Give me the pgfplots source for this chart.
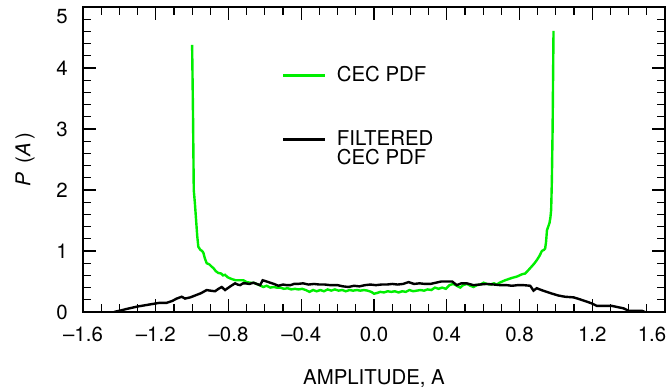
\documentclass[border=0pt]{standalone}
\usepackage{fontspec}
\setmainfont{TeX Gyre Heros}
\usepackage{pgfplots}
\pgfplotsset{compat=1.18}
\definecolor{cecgreen}{RGB}{0,238,0}
\newcommand{\fnt}{\fontsize{10.2pt}{12.2pt}\selectfont}
\begin{document}
\begin{tikzpicture}
\begin{axis}[
  at={(0,0)}, anchor=south west,
  scale only axis, width=291pt, height=152.5pt,
  xmin=-1.6, xmax=1.6, ymin=0, ymax=5,
  axis line style={line width=0.8pt},
  tick style={line width=0.6pt, black},
  tick align=inside,
  major tick length=6.5pt, minor tick length=3.8pt,
  xtick={-1.6,-1.2,-0.8,-0.4,0,0.4,0.8,1.2,1.6},
  xticklabels={\textendash1.6,\textendash1.2,\textendash0.8,\textendash0.4,0.0,0.4,0.8,1.2,\rlap{\hspace*{-13.6pt}1.6}},
  minor x tick num=3,
  ytick={0,1,2,3,4,5},
  yticklabels={0,1,2,3,4,\smash{\raisebox{-8.1pt}{5}}},
  minor y tick num=4,
  xticklabel style={font=\fnt, anchor=base, yshift=-14.8pt, inner sep=0pt},
  yticklabel style={font=\fnt, anchor=east, xshift=-7.5pt, inner sep=0pt},
  xlabel={AMPLITUDE, A},
  every axis x label/.style={font=\fnt, at={(rel axis cs:0.5,0)}, anchor=base, yshift=-36.5pt, inner sep=0pt},
  ylabel={\textit{P}\, (\textit{A}\,)},
  every axis y label/.style={font=\fnt, at={(rel axis cs:0,0.5)}, xshift=-29pt, rotate=90, anchor=center, inner sep=0pt},
  legend style={draw=none, fill=none, at={(rel axis cs:0.341,0.82)}, anchor=north west,
    inner sep=0pt, row sep=19pt, column sep=3.5pt, font=\fnt,
    cells={anchor=west}},
  legend image code/.code={\draw[#1] (0pt,0pt) -- (20.8pt,0pt);},
]
\addplot[cecgreen, line width=1.2pt] coordinates {
(-1.000,4.38) (-0.995,3.20) (-0.991,2.00) (-0.985,1.79) (-0.978,1.50) (-0.972,1.25)
(-0.966,1.07) (-0.955,1.02) (-0.945,1.00) (-0.938,0.97) (-0.930,0.88) (-0.920,0.80)
(-0.905,0.78) (-0.895,0.75) (-0.883,0.72) (-0.870,0.67) (-0.856,0.64) (-0.840,0.63)
(-0.830,0.60) (-0.819,0.61) (-0.805,0.57) (-0.790,0.55) (-0.782,0.54) (-0.760,0.52)
(-0.740,0.52) (-0.718,0.52) (-0.700,0.49) (-0.680,0.48) (-0.663,0.48) (-0.645,0.46)
(-0.630,0.44) (-0.608,0.41) (-0.590,0.43) (-0.570,0.40) (-0.550,0.41) (-0.535,0.40)
(-0.515,0.40) (-0.495,0.38) (-0.475,0.39) (-0.455,0.37) (-0.435,0.38) (-0.415,0.37)
(-0.395,0.38) (-0.375,0.36) (-0.355,0.33) (-0.335,0.36) (-0.315,0.34) (-0.295,0.36)
(-0.275,0.34) (-0.255,0.37) (-0.235,0.35) (-0.215,0.37) (-0.195,0.35) (-0.175,0.36)
(-0.155,0.34) (-0.135,0.36) (-0.115,0.35) (-0.095,0.36) (-0.075,0.35) (-0.055,0.36)
(-0.035,0.35) (-0.015,0.33) (0.000,0.30) (0.015,0.31) (0.035,0.33) (0.055,0.32)
(0.075,0.34) (0.095,0.33) (0.115,0.34) (0.135,0.32) (0.155,0.34) (0.175,0.33)
(0.195,0.36) (0.215,0.34) (0.235,0.35) (0.255,0.36) (0.275,0.35) (0.295,0.37)
(0.315,0.36) (0.335,0.40) (0.355,0.38) (0.375,0.40) (0.395,0.38) (0.415,0.44)
(0.435,0.46) (0.455,0.43) (0.474,0.40) (0.490,0.44) (0.511,0.46) (0.530,0.43)
(0.547,0.41) (0.565,0.44) (0.585,0.45) (0.602,0.48) (0.620,0.46) (0.640,0.45)
(0.660,0.47) (0.675,0.45) (0.690,0.48) (0.705,0.50) (0.721,0.52) (0.740,0.54)
(0.760,0.56) (0.785,0.58) (0.800,0.60) (0.815,0.62) (0.831,0.63) (0.850,0.69)
(0.868,0.75) (0.880,0.79) (0.895,0.85) (0.910,0.92) (0.923,1.00) (0.935,1.02)
(0.941,1.04) (0.946,1.15) (0.951,1.34) (0.958,1.40) (0.965,1.46) (0.970,1.55)
(0.974,1.67) (0.978,2.16) (0.982,3.00) (0.987,4.61)
};
\addlegendentry{CEC PDF}
\addplot[black, line width=1.2pt] coordinates {
(-1.43,0.00) (-1.40,0.02) (-1.36,0.05) (-1.33,0.07) (-1.30,0.09) (-1.26,0.11)
(-1.22,0.13) (-1.18,0.15) (-1.14,0.15) (-1.11,0.18) (-1.085,0.22) (-1.057,0.25)
(-1.039,0.22) (-1.01,0.24) (-0.984,0.27) (-0.95,0.31) (-0.92,0.36) (-0.90,0.35)
(-0.874,0.34) (-0.855,0.38) (-0.837,0.41) (-0.819,0.36) (-0.79,0.42) (-0.764,0.47)
(-0.750,0.45) (-0.736,0.44) (-0.72,0.47) (-0.709,0.47) (-0.685,0.46) (-0.663,0.48)
(-0.645,0.46) (-0.626,0.44) (-0.612,0.52) (-0.59,0.50) (-0.571,0.48) (-0.55,0.46)
(-0.526,0.43) (-0.50,0.45) (-0.48,0.44) (-0.46,0.44) (-0.44,0.46) (-0.42,0.46)
(-0.39,0.47) (-0.36,0.45) (-0.33,0.46) (-0.30,0.45) (-0.27,0.45) (-0.24,0.44)
(-0.20,0.44) (-0.17,0.42) (-0.14,0.41) (-0.11,0.43) (-0.08,0.42) (-0.05,0.44)
(-0.02,0.45) (0.01,0.44) (0.04,0.45) (0.07,0.45) (0.10,0.46) (0.13,0.45)
(0.16,0.46) (0.19,0.49) (0.22,0.46) (0.25,0.47) (0.28,0.46) (0.31,0.46)
(0.34,0.48) (0.37,0.50) (0.40,0.50) (0.43,0.50) (0.455,0.44) (0.48,0.47)
(0.51,0.47) (0.547,0.44) (0.58,0.45) (0.62,0.46) (0.66,0.45) (0.694,0.44)
(0.73,0.44) (0.758,0.43) (0.79,0.44) (0.822,0.44) (0.859,0.43) (0.877,0.35)
(0.895,0.39) (0.92,0.36) (0.95,0.33) (0.98,0.30) (1.014,0.27) (1.05,0.25)
(1.097,0.24) (1.13,0.21) (1.17,0.17) (1.198,0.14) (1.225,0.10) (1.27,0.10)
(1.308,0.10) (1.34,0.08) (1.372,0.06) (1.40,0.02) (1.473,0.02) (1.49,0.00)
};
\addlegendentry{\smash{\rlap{\raisebox{-9.6pt}{CEC PDF}}}FILTERED}
\end{axis}
\pgfresetboundingbox
\path[use as bounding box] (-41.5pt,-38.5pt) rectangle (292.5pt,156pt);
\end{tikzpicture}
\end{document}
